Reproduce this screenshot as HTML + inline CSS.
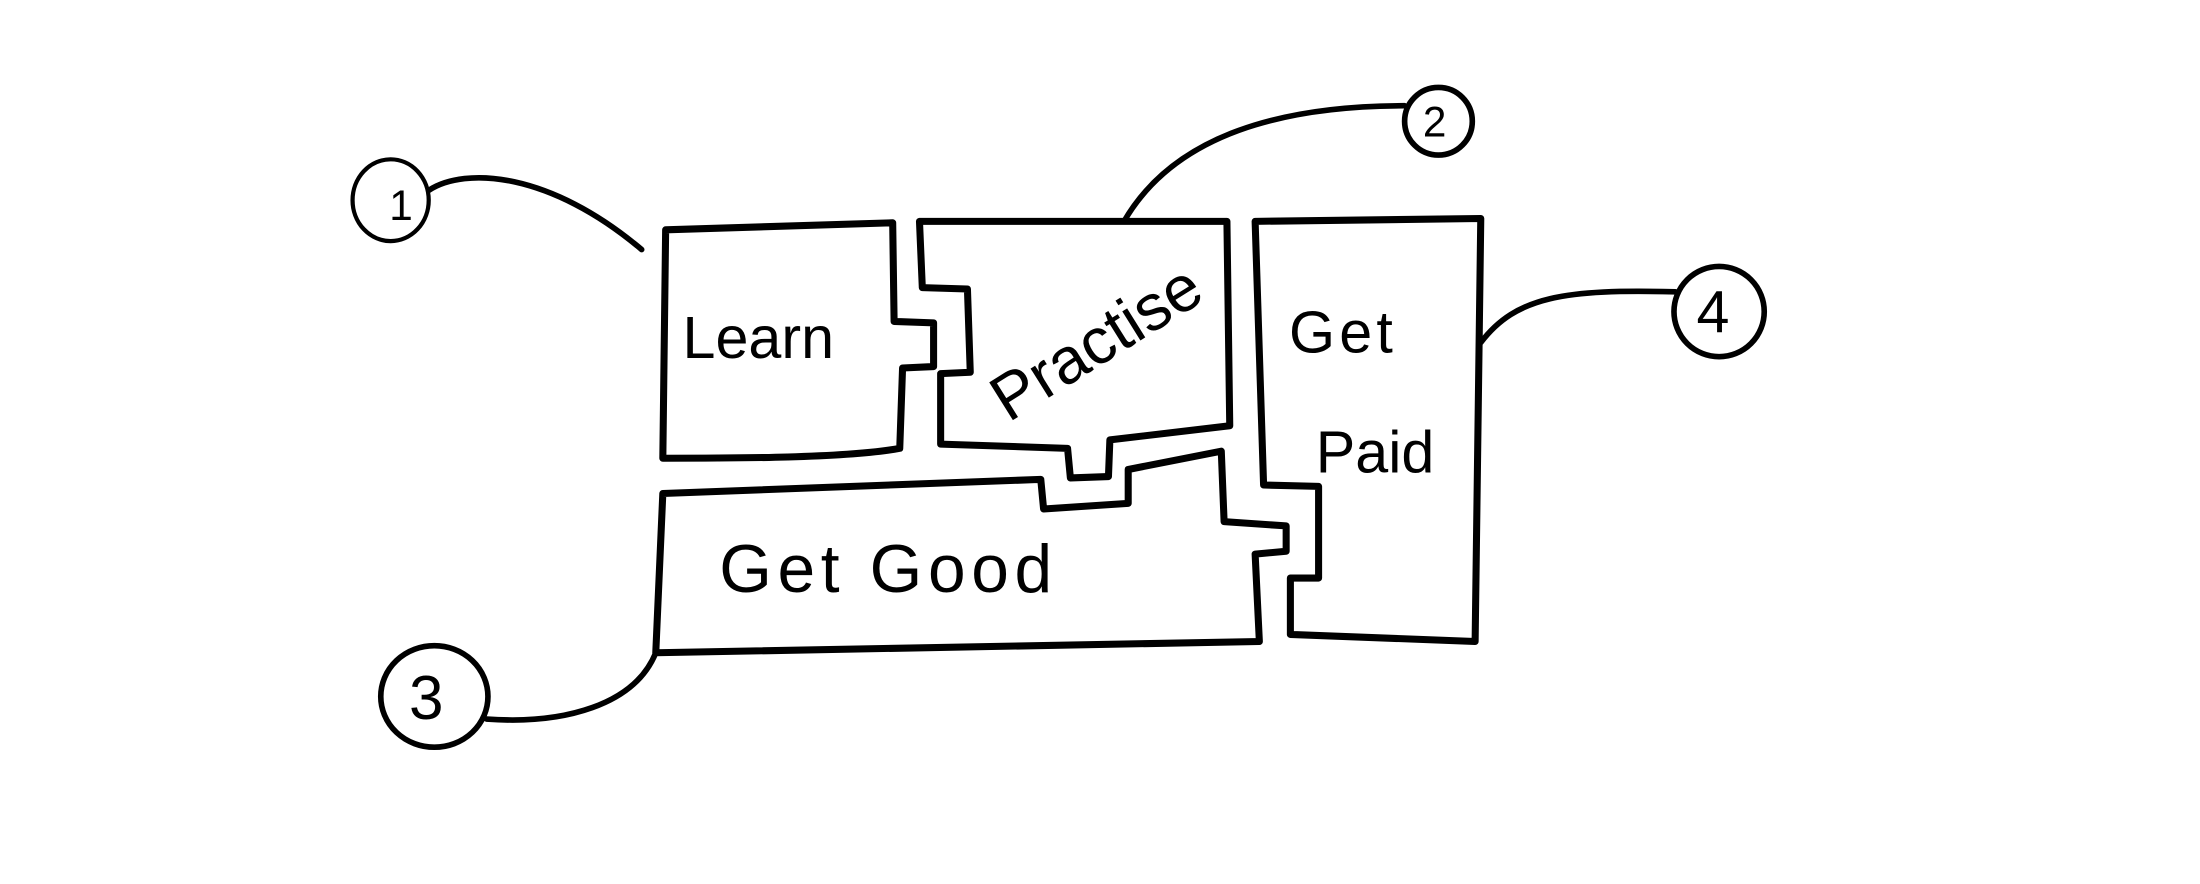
<!DOCTYPE html>
<html><head><meta charset="utf-8"><style>
html,body{margin:0;padding:0;background:#fff;width:2200px;height:884px;overflow:hidden}
svg{display:block}
text{font-family:"Liberation Sans",sans-serif;fill:#000}
</style></head><body>
<svg width="2200" height="884" viewBox="0 0 1560 627" preserveAspectRatio="none">
<g fill="none" stroke="#000" stroke-width="5" stroke-linejoin="round" stroke-linecap="round">
<!-- circle 1 -->
<ellipse cx="277" cy="142" rx="27" ry="29" stroke-width="3"/>
<path d="M304,135 C330,118 390,122 455,177" stroke-width="4"/>
<!-- Learn -->
<path d="M472,163 L633,158 L634,228 L662,229 L662,260 L640,261 L638,318 C600,325 520,325 470,325 Z"/>
<!-- Practise -->
<path d="M652,157 L870,157 L872,302 L787,312 L786,338 L759,339 L757,318 L667,315 L667,265 L688,264 L686,205 L654,204 Z"/>
<!-- Get Good -->
<path d="M470,350 L738,340 L740,361 L800,357 L800,333 L866,320 L868,370 L912,373 L912,391 L890,393 L893,455 L465,463 Z"/>
<!-- Get Paid -->
<path d="M890,157 L1050,155 L1046,455 L915,450 L915,410 L935,410 L935,345 L896,344 Z"/>
<!-- circle 2 -->
<circle cx="1020" cy="86" r="24" stroke-width="4"/>
<path d="M797,157 C830,100 900,75 996,75" stroke-width="4"/>
<!-- circle 4 -->
<circle cx="1219" cy="221" r="32" stroke-width="4"/>
<path d="M1050,243 C1075,210 1110,205 1188,207" stroke-width="4"/>
<!-- circle 3 -->
<ellipse cx="308" cy="494" rx="38" ry="36" stroke-width="4"/>
<path d="M345,510 C400,514 450,500 465,463" stroke-width="4"/>
</g>
<text x="276" y="156" font-size="30">1</text>
<text x="1009" y="97" font-size="30">2</text>
<text x="290" y="510" font-size="44">3</text>
<text x="1203" y="236" font-size="42">4</text>
<text x="484" y="254" font-size="42">Learn</text>
<text x="0" y="0" font-size="46" transform="translate(715,300) rotate(-32)">Practise</text>
<text x="510" y="420" font-size="48" letter-spacing="4">Get Good</text>
<text x="914" y="250" font-size="42" letter-spacing="3">Get</text>
<text x="933" y="335" font-size="42">Paid</text>
</svg>
</body></html>
